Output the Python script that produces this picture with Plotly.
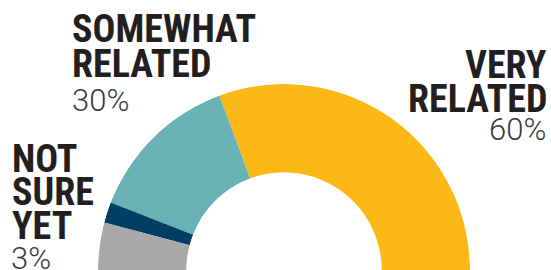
import plotly.graph_objects as go

# ---- data ----
categories = ["Very related", "Somewhat related", "Not sure yet", "Not related"]
label_lines = [["VERY", "RELATED"], ["SOMEWHAT", "RELATED"], ["NOT", "SURE", "YET"], []]
label_pcts = [60, 30, 3, None]
# share of the half-circle each segment occupies, as drawn
arc_shares = [61.3, 26.9, 3.6, 8.2]
colors = ["#FBB817", "#68B2B5", "#003F63", "#A9A9A9"]

W, H = 551, 270

# angles (degrees) from the shares
total = sum(arc_shares)
widths = [s / total * 180 for s in arc_shares]
centers = []
acc = 0
for w in widths:
    centers.append(acc + w / 2)
    acc += w

fig = go.Figure()
fig.add_trace(go.Barpolar(
    r=[1] * len(categories),
    theta=centers,
    width=widths,
    base=0,
    marker=dict(color=colors, line=dict(width=0)),
    hoverinfo="skip",
    showlegend=False,
))

# geometry of the half ring in pixels
cx, R = 284, 186
x0, x1 = cx - R, cx + R
fig.update_layout(
    width=W, height=H,
    margin=dict(l=0, r=0, t=0, b=0),
    paper_bgcolor="white", plot_bgcolor="white",
    polar=dict(
        domain=dict(x=[x0 / W, x1 / W], y=[0, R / H]),
        sector=[0, 180],
        hole=97.5 / 186,
        bgcolor="rgba(0,0,0,0)",
        radialaxis=dict(visible=False, range=[0, 1], showgrid=False),
        angularaxis=dict(visible=False, direction="counterclockwise", rotation=0, showgrid=False),
    ),
)

bold_font = dict(family="Roboto Condensed, Open Sans Condensed, sans-serif",
                 size=38, color="#231F20", weight=700)
pct_font = dict(family="Roboto, Liberation Sans, sans-serif", size=31, color="#3A3A3A", weight=300)

def px(x):
    return x / W

def py(y):
    return 1 - y / H

# label layout: (anchor, x px of lines, line centers px, x px of pct, pct center px)
placements = [
    ("right", 548, [64.5, 99], 547, 129),
    ("left", 71, [29, 64], 71, 101),
    ("left", 11, [158.5, 192.5, 225.5], 10, 258),
    None,
]

for i, pl in enumerate(placements):
    if pl is None:
        continue
    anchor, xp, line_ys, pct_x, pct_y = pl
    for txt, yy in zip(label_lines[i], line_ys):
        fig.add_annotation(x=px(xp), y=py(yy), xref="paper", yref="paper",
                           text=txt, showarrow=False,
                           xanchor=anchor, yanchor="middle", font=bold_font, borderpad=0)
    if label_pcts[i] is not None:
        fig.add_annotation(x=px(pct_x), y=py(pct_y), xref="paper", yref="paper",
                           text=f"{label_pcts[i]}%", showarrow=False,
                           xanchor=anchor, yanchor="middle", font=pct_font, borderpad=0)

fig.write_html("out.html", config={"displayModeBar": False},
               post_script="document.body.style.margin='0';")
